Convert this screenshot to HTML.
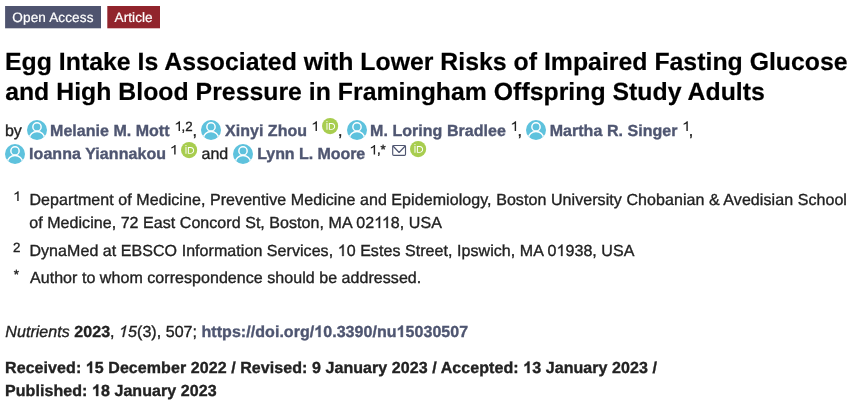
<!DOCTYPE html>
<html><head><meta charset="utf-8">
<style>
html,body{margin:0;padding:0;background:#fff;}
body{width:864px;height:409px;overflow:hidden;position:relative;font-family:"Liberation Sans",sans-serif;}
#wrap{position:absolute;left:0;top:0;width:864px;height:409px;will-change:transform;}
.s{position:absolute;white-space:pre;line-height:20px;font-family:"Liberation Sans",sans-serif;-webkit-text-stroke:0.35px currentColor;text-rendering:geometricPrecision;}
.k{color:transparent;}
.box{position:absolute;}
svg{position:absolute;overflow:visible;}
</style></head><body><div id="wrap">
<svg class="box" style="left:0;top:0" width="170" height="34" viewBox="0 0 170 34"><rect x="5.1" y="6" width="95.9" height="22.3" fill="#4f546f"/><rect x="107.3" y="6" width="52.7" height="22.3" fill="#91242c"/></svg>
<svg width="0" height="0" style="position:absolute"><defs><clipPath id="uc"><circle cx="10" cy="10" r="10"/></clipPath></defs></svg>
<svg class="u" style="left:26.6px;top:119.9px" width="20" height="20" viewBox="0 0 20 20"><circle cx="10" cy="10" r="10" fill="#5ec2dd"/><g clip-path="url(#uc)" fill="none" stroke="#fff" stroke-width="1.45"><circle cx="10" cy="6.9" r="4.15"/><ellipse cx="10" cy="18.6" rx="7.6" ry="7.1"/></g></svg>
<svg class="u" style="left:201.25px;top:119.9px" width="20" height="20" viewBox="0 0 20 20"><circle cx="10" cy="10" r="10" fill="#5ec2dd"/><g clip-path="url(#uc)" fill="none" stroke="#fff" stroke-width="1.45"><circle cx="10" cy="6.9" r="4.15"/><ellipse cx="10" cy="18.6" rx="7.6" ry="7.1"/></g></svg>
<svg class="u" style="left:346.9px;top:119.9px" width="20" height="20" viewBox="0 0 20 20"><circle cx="10" cy="10" r="10" fill="#5ec2dd"/><g clip-path="url(#uc)" fill="none" stroke="#fff" stroke-width="1.45"><circle cx="10" cy="6.9" r="4.15"/><ellipse cx="10" cy="18.6" rx="7.6" ry="7.1"/></g></svg>
<svg class="u" style="left:526.25px;top:119.9px" width="20" height="20" viewBox="0 0 20 20"><circle cx="10" cy="10" r="10" fill="#5ec2dd"/><g clip-path="url(#uc)" fill="none" stroke="#fff" stroke-width="1.45"><circle cx="10" cy="6.9" r="4.15"/><ellipse cx="10" cy="18.6" rx="7.6" ry="7.1"/></g></svg>
<svg class="u" style="left:5.0px;top:143.6px" width="20" height="20" viewBox="0 0 20 20"><circle cx="10" cy="10" r="10" fill="#5ec2dd"/><g clip-path="url(#uc)" fill="none" stroke="#fff" stroke-width="1.45"><circle cx="10" cy="6.9" r="4.15"/><ellipse cx="10" cy="18.6" rx="7.6" ry="7.1"/></g></svg>
<svg class="u" style="left:233.1px;top:143.6px" width="20" height="20" viewBox="0 0 20 20"><circle cx="10" cy="10" r="10" fill="#5ec2dd"/><g clip-path="url(#uc)" fill="none" stroke="#fff" stroke-width="1.45"><circle cx="10" cy="6.9" r="4.15"/><ellipse cx="10" cy="18.6" rx="7.6" ry="7.1"/></g></svg>
<svg class="o" style="left:321.9px;top:117.55px" width="16.2" height="16.2" viewBox="0 0 256 256"><circle cx="128" cy="128" r="128" fill="#a8cd4f"/><g fill="#fff"><path d="M86.3,186.2H70.9V79.1h15.4v48.4V186.2z"/><path d="M108.9,79.1h41.6c39.6,0,57,28.3,57,53.6c0,27.5-21.5,53.6-56.8,53.6h-41.8V79.1z M124.3,172.4h24.5c34.9,0,42.9-26.5,42.9-39.7c0-21.5-13.7-39.7-43.7-39.7h-23.7V172.4z"/><path d="M88.7,56.8c0,5.5-4.5,10.1-10.1,10.1c-5.6,0-10.1-4.6-10.1-10.1c0-5.6,4.5-10.1,10.1-10.1C84.2,46.7,88.7,51.3,88.7,56.8z"/></g></svg>
<svg class="o" style="left:181.25px;top:141.55px" width="16.2" height="16.2" viewBox="0 0 256 256"><circle cx="128" cy="128" r="128" fill="#a8cd4f"/><g fill="#fff"><path d="M86.3,186.2H70.9V79.1h15.4v48.4V186.2z"/><path d="M108.9,79.1h41.6c39.6,0,57,28.3,57,53.6c0,27.5-21.5,53.6-56.8,53.6h-41.8V79.1z M124.3,172.4h24.5c34.9,0,42.9-26.5,42.9-39.7c0-21.5-13.7-39.7-43.7-39.7h-23.7V172.4z"/><path d="M88.7,56.8c0,5.5-4.5,10.1-10.1,10.1c-5.6,0-10.1-4.6-10.1-10.1c0-5.6,4.5-10.1,10.1-10.1C84.2,46.7,88.7,51.3,88.7,56.8z"/></g></svg>
<svg class="o" style="left:409.6px;top:141.45px" width="16.2" height="16.2" viewBox="0 0 256 256"><circle cx="128" cy="128" r="128" fill="#a8cd4f"/><g fill="#fff"><path d="M86.3,186.2H70.9V79.1h15.4v48.4V186.2z"/><path d="M108.9,79.1h41.6c39.6,0,57,28.3,57,53.6c0,27.5-21.5,53.6-56.8,53.6h-41.8V79.1z M124.3,172.4h24.5c34.9,0,42.9-26.5,42.9-39.7c0-21.5-13.7-39.7-43.7-39.7h-23.7V172.4z"/><path d="M88.7,56.8c0,5.5-4.5,10.1-10.1,10.1c-5.6,0-10.1-4.6-10.1-10.1c0-5.6,4.5-10.1,10.1-10.1C84.2,46.7,88.7,51.3,88.7,56.8z"/></g></svg>
<svg class="m" style="left:0;top:0" width="1" height="1"><g fill="none" stroke="#4f5671" stroke-width="1.15" stroke-linejoin="round" stroke-linecap="round"><rect x="392.7" y="145.5" width="12.8" height="9.9" rx="1.1"/><path d="M393 146L399.1 152.5L405.2 146"/></g></svg>
<svg class="n1" style="left:0;top:0" width="1" height="1"><path fill="#222" transform="translate(173.995 130.900) scale(0.007870 -0.006548)" d="M763 0H583V1147Q518 1085 412.5 1023T223 930V1104Q373 1174.5 485 1275T644 1466H763V0Z"/></svg>
<svg class="n1" style="left:0;top:0" width="1" height="1"><path fill="#222" transform="translate(310.945 130.900) scale(0.007870 -0.006548)" d="M763 0H583V1147Q518 1085 412.5 1023T223 930V1104Q373 1174.5 485 1275T644 1466H763V0Z"/></svg>
<svg class="n1" style="left:0;top:0" width="1" height="1"><path fill="#222" transform="translate(510.095 130.900) scale(0.007870 -0.006548)" d="M763 0H583V1147Q518 1085 412.5 1023T223 930V1104Q373 1174.5 485 1275T644 1466H763V0Z"/></svg>
<svg class="n1" style="left:0;top:0" width="1" height="1"><path fill="#222" transform="translate(681.795 130.900) scale(0.007870 -0.006548)" d="M763 0H583V1147Q518 1085 412.5 1023T223 930V1104Q373 1174.5 485 1275T644 1466H763V0Z"/></svg>
<svg class="n1" style="left:0;top:0" width="1" height="1"><path fill="#222" transform="translate(169.595 154.600) scale(0.007870 -0.006548)" d="M763 0H583V1147Q518 1085 412.5 1023T223 930V1104Q373 1174.5 485 1275T644 1466H763V0Z"/></svg>
<svg class="n1" style="left:0;top:0" width="1" height="1"><path fill="#222" transform="translate(369.095 154.600) scale(0.007870 -0.006548)" d="M763 0H583V1147Q518 1085 412.5 1023T223 930V1104Q373 1174.5 485 1275T644 1466H763V0Z"/></svg>
<svg class="n1" style="left:0;top:0" width="1" height="1"><path fill="#222" transform="translate(12.645 200.900) scale(0.007870 -0.006548)" d="M763 0H583V1147Q518 1085 412.5 1023T223 930V1104Q373 1174.5 485 1275T644 1466H763V0Z"/></svg>
<svg class="n1b" style="left:0;top:0" width="1" height="1"><path fill="rgb(34, 34, 34)" stroke="rgb(34, 34, 34)" stroke-width="44.8" transform="translate(374.141 228) scale(0.007812 -0.007812)" d="M763 0H583V1147Q518 1085 412.5 1023T223 930V1104Q373 1174.5 485 1275T644 1466H763V0Z"/><path fill="rgb(34, 34, 34)" stroke="rgb(34, 34, 34)" stroke-width="44.8" transform="translate(381.906 228) scale(0.007812 -0.007812)" d="M763 0H583V1147Q518 1085 412.5 1023T223 930V1104Q373 1174.5 485 1275T644 1466H763V0Z"/><path fill="rgb(34, 34, 34)" stroke="rgb(34, 34, 34)" stroke-width="44.8" transform="translate(337.703 256) scale(0.007812 -0.007812)" d="M763 0H583V1147Q518 1085 412.5 1023T223 930V1104Q373 1174.5 485 1275T644 1466H763V0Z"/><path fill="rgb(34, 34, 34)" stroke="rgb(34, 34, 34)" stroke-width="44.8" transform="translate(556.516 256) scale(0.007812 -0.007812)" d="M763 0H583V1147Q518 1085 412.5 1023T223 930V1104Q373 1174.5 485 1275T644 1466H763V0Z"/><path fill="rgb(34, 34, 34)" stroke="rgb(34, 34, 34)" stroke-width="44.8" transform="translate(117.909 337) skewX(-12) scale(0.007812 -0.007812)" d="M763 0H583V1147Q518 1085 412.5 1023T223 930V1104Q373 1174.5 485 1275T644 1466H763V0Z"/><path fill="rgb(79, 86, 113)" stroke="rgb(79, 86, 113)" stroke-width="44.8" transform="translate(314.281 337) scale(0.007812 -0.007812)" d="M806 0H525V1059Q371 915 162 846V1101Q272 1137 401 1237.5T578 1472H806V0Z"/><path fill="rgb(79, 86, 113)" stroke="rgb(79, 86, 113)" stroke-width="44.8" transform="translate(396.609 337) scale(0.007812 -0.007812)" d="M806 0H525V1059Q371 915 162 846V1101Q272 1137 401 1237.5T578 1472H806V0Z"/><path fill="rgb(34, 34, 34)" stroke="rgb(34, 34, 34)" stroke-width="44.8" transform="translate(85.797 373) scale(0.007812 -0.007812)" d="M806 0H525V1059Q371 915 162 846V1101Q272 1137 401 1237.5T578 1472H806V0Z"/><path fill="rgb(34, 34, 34)" stroke="rgb(34, 34, 34)" stroke-width="44.8" transform="translate(523.219 373) scale(0.007812 -0.007812)" d="M806 0H525V1059Q371 915 162 846V1101Q272 1137 401 1237.5T578 1472H806V0Z"/><path fill="rgb(34, 34, 34)" stroke="rgb(34, 34, 34)" stroke-width="44.8" transform="translate(91.984 396) scale(0.007812 -0.007812)" d="M806 0H525V1059Q371 915 162 846V1101Q272 1137 401 1237.5T578 1472H806V0Z"/></svg>
<span class="s" id="s0" style="left:12.33px;top:8.30px;font-size:13.6px;font-weight:normal;font-style:normal;color:#fff;letter-spacing:0.1034px;-webkit-text-stroke-width:0.2px">Open Access</span>
<span class="s" id="s1" style="left:114.62px;top:8.30px;font-size:13.6px;font-weight:normal;font-style:normal;color:#fff;letter-spacing:0.0425px;-webkit-text-stroke-width:0.2px">Article</span>
<span class="s" id="s2" style="left:5.00px;top:53.40px;font-size:24.8px;font-weight:bold;font-style:normal;color:#000;letter-spacing:0.0238px;-webkit-text-stroke-width:0.2px">Egg Intake Is Associated with Lower Risks of Impaired Fasting Glucose</span>
<span class="s" id="s3" style="left:5.13px;top:83.30px;font-size:24.8px;font-weight:bold;font-style:normal;color:#000;letter-spacing:0.0249px;-webkit-text-stroke-width:0.2px">and High Blood Pressure in Framingham Offspring Study Adults</span>
<span class="s" id="s4" style="left:4.93px;top:121.80px;font-size:16px;font-weight:normal;font-style:normal;color:#222222;letter-spacing:0.0000px;-webkit-text-stroke-width:0.35px">by</span>
<span class="s" id="s5" style="left:50.04px;top:121.80px;font-size:16px;font-weight:bold;font-style:normal;color:#4f5671;letter-spacing:0.0294px;-webkit-text-stroke-width:0.35px">Melanie M. Mott</span>
<span class="s" id="s6" style="left:192.54px;top:121.80px;font-size:16px;font-weight:normal;font-style:normal;color:#222222;letter-spacing:0.0000px;-webkit-text-stroke-width:0.35px">,</span>
<span class="s" id="s7" style="left:224.96px;top:121.80px;font-size:16px;font-weight:bold;font-style:normal;color:#4f5671;letter-spacing:0.0348px;-webkit-text-stroke-width:0.35px">Xinyi Zhou</span>
<span class="s" id="s8" style="left:338.09px;top:121.80px;font-size:16px;font-weight:normal;font-style:normal;color:#222222;letter-spacing:0.0000px;-webkit-text-stroke-width:0.35px">,</span>
<span class="s" id="s9" style="left:370.04px;top:121.80px;font-size:16px;font-weight:bold;font-style:normal;color:#4f5671;letter-spacing:0.0452px;-webkit-text-stroke-width:0.35px">M. Loring Bradlee</span>
<span class="s" id="s10" style="left:517.54px;top:121.80px;font-size:16px;font-weight:normal;font-style:normal;color:#222222;letter-spacing:0.0000px;-webkit-text-stroke-width:0.35px">,</span>
<span class="s" id="s11" style="left:549.65px;top:121.80px;font-size:16px;font-weight:bold;font-style:normal;color:#4f5671;letter-spacing:0.0502px;-webkit-text-stroke-width:0.35px">Martha R. Singer</span>
<span class="s" id="s12" style="left:688.87px;top:121.80px;font-size:16px;font-weight:normal;font-style:normal;color:#222222;letter-spacing:0.0000px;-webkit-text-stroke-width:0.35px">,</span>
<span class="s" id="s13" style="left:29.05px;top:145.30px;font-size:16px;font-weight:bold;font-style:normal;color:#4f5671;letter-spacing:0.0629px;-webkit-text-stroke-width:0.35px">Ioanna Yiannakou</span>
<span class="s" id="s14" style="left:201.57px;top:145.30px;font-size:16px;font-weight:normal;font-style:normal;color:#222222;letter-spacing:0.0000px;-webkit-text-stroke-width:0.35px">and</span>
<span class="s" id="s15" style="left:257.17px;top:145.30px;font-size:16px;font-weight:bold;font-style:normal;color:#4f5671;letter-spacing:-0.0522px;-webkit-text-stroke-width:0.35px">Lynn L. Moore</span>
<span class="s" id="s16" style="left:29.45px;top:191.00px;font-size:16px;font-weight:normal;font-style:normal;color:#222222;letter-spacing:0.0734px;-webkit-text-stroke-width:0.35px">Department of Medicine, Preventive Medicine and Epidemiology, Boston University Chobanian &amp; Avedisian School</span>
<span class="s" id="s17" style="left:29.27px;top:214.00px;font-size:16px;font-weight:normal;font-style:normal;color:#222222;letter-spacing:0.0534px;-webkit-text-stroke-width:0.35px">of Medicine, 72 East Concord St, Boston, MA 02<span class="k">1</span><span class="k">1</span>8, USA</span>
<span class="s" id="s18" style="left:12.91px;top:237.65px;font-size:13.33px;font-weight:normal;font-style:normal;color:#222222;letter-spacing:0.0000px;-webkit-text-stroke-width:0.35px">2</span>
<span class="s" id="s19" style="left:29.45px;top:241.75px;font-size:16px;font-weight:normal;font-style:normal;color:#222222;letter-spacing:0.0604px;-webkit-text-stroke-width:0.35px">DynaMed at EBSCO Information Services, <span class="k">1</span>0 Estes Street, Ipswich, MA 0<span class="k">1</span>938, USA</span>
<span class="s" id="s20" style="left:13.69px;top:264.90px;font-size:13.33px;font-weight:normal;font-style:normal;color:#222222;letter-spacing:0.0000px;-webkit-text-stroke-width:0.35px">*</span>
<span class="s" id="s21" style="left:29.98px;top:269.00px;font-size:16px;font-weight:normal;font-style:normal;color:#222222;letter-spacing:0.0529px;-webkit-text-stroke-width:0.35px">Author to whom correspondence should be addressed.</span>
<span class="s" id="s22" style="left:181.50px;top:116.80px;font-size:13.33px;font-weight:normal;font-style:normal;color:#222222;letter-spacing:0.0000px;-webkit-text-stroke-width:0.35px">,2</span>
<span class="s" id="s23" style="left:376.91px;top:140.40px;font-size:13.33px;font-weight:normal;font-style:normal;color:#222222;letter-spacing:0.0000px;-webkit-text-stroke-width:0.35px">,*</span>
<span class="s" id="s24" style="left:5.35px;top:322.50px;font-size:16px;font-weight:normal;font-style:normal;color:#222222;letter-spacing:0.0483px;-webkit-text-stroke-width:0.35px"><i>Nutrients</i> <b>2023</b>, <i><span class="k">1</span>5</i>(3), 507; <b style="color:#4f5671">https://doi.org/<span class="k">1</span>0.3390/nu<span class="k">1</span>5030507</b></span>
<span class="s" id="s25" style="left:5.04px;top:358.50px;font-size:16px;font-weight:bold;font-style:normal;color:#222222;letter-spacing:0.0723px;-webkit-text-stroke-width:0.35px">Received: <span class="k">1</span>5 December 2022 / Revised: 9 January 2023 / Accepted: <span class="k">1</span>3 January 2023 /</span>
<span class="s" id="s26" style="left:5.04px;top:381.75px;font-size:16px;font-weight:bold;font-style:normal;color:#222222;letter-spacing:0.0649px;-webkit-text-stroke-width:0.35px">Published: <span class="k">1</span>8 January 2023</span>
</div></body></html>
